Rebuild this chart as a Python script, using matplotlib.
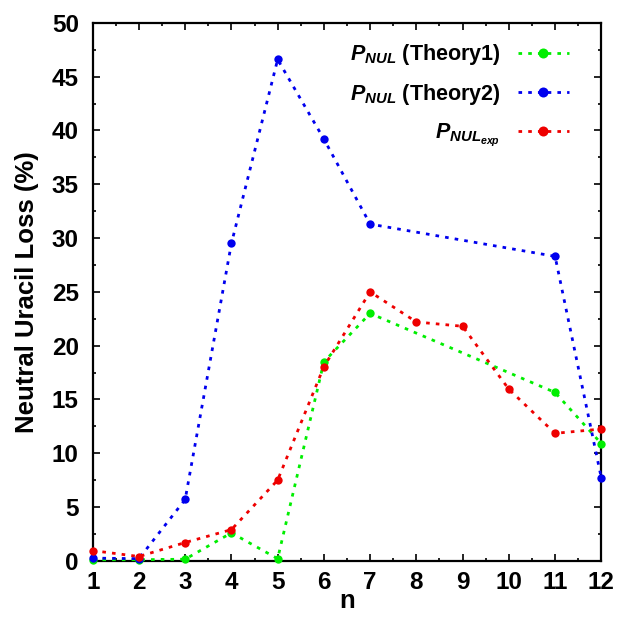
import matplotlib
matplotlib.use("Agg")
import matplotlib.pyplot as plt
from matplotlib.ticker import MultipleLocator

plt.rcParams['font.family'] = ['Liberation Sans', 'DejaVu Sans']
plt.rcParams['font.weight'] = 'bold'
plt.rcParams['mathtext.fontset'] = 'custom'
plt.rcParams['mathtext.it'] = 'Liberation Sans:italic:bold'
plt.rcParams['mathtext.rm'] = 'Liberation Sans:bold'
plt.rcParams['mathtext.bf'] = 'Liberation Sans:bold'

# Data
n_theory1 = [1, 2, 3, 4, 5, 6, 7, 11, 12]
p_theory1 = [0.1, 0.1, 0.15, 2.6, 0.2, 18.5, 23.0, 15.65, 10.9]

n_theory2 = [1, 2, 3, 4, 5, 6, 7, 11, 12]
p_theory2 = [0.25, 0.2, 5.7, 29.5, 46.6, 39.2, 31.3, 28.3, 7.7]

n_exp = [1, 2, 3, 4, 5, 6, 7, 8, 9, 10, 11, 12]
p_exp = [0.95, 0.4, 1.7, 2.9, 7.5, 18.05, 25.0, 22.2, 21.8, 15.95, 11.85, 12.25]

labels = [r'$P_{NUL}$ (Theory1)', r'$P_{NUL}$ (Theory2)', r'$P_{NUL_{exp}}$']
colors = ['#00ee00', '#0000ee', '#ee0000']
xticks = list(range(1, 13))

fig = plt.figure(figsize=(6.18, 6.19), dpi=100)
ax = fig.add_axes([0.150, 0.094, 0.823, 0.869])

ls = (0, (1.3, 2.2))
for xs, ys, lab, c in [(n_theory1, p_theory1, labels[0], colors[0]),
                       (n_theory2, p_theory2, labels[1], colors[1]),
                       (n_exp, p_exp, labels[2], colors[2])]:
    ax.plot(xs, ys, linestyle=ls, color=c, lw=2.0, marker='o', ms=6,
            markeredgewidth=0, label=lab, clip_on=False, zorder=3)

ax.set_xlim(1, 12)
ax.set_ylim(0, 50)
ax.set_xticks(xticks)
ax.xaxis.set_minor_locator(MultipleLocator(0.5))
ax.yaxis.set_major_locator(MultipleLocator(5))
ax.yaxis.set_minor_locator(MultipleLocator(2.5))
ax.tick_params(which='both', direction='in', top=True, right=True, width=1.2)
ax.tick_params(which='major', length=5, labelsize=17.5)
ax.tick_params(axis='y', which='major', pad=10)
ax.tick_params(axis='x', which='major', pad=7)
ax.tick_params(which='minor', length=2.5)
for lab in ax.get_xticklabels() + ax.get_yticklabels():
    lab.set_fontweight('bold')
for s in ax.spines.values():
    s.set_linewidth(1.6)

ax.set_xlabel('n', fontsize=18.5, fontweight='bold', labelpad=-3)
ax.set_ylabel('Neutral Uracil Loss (%)', fontsize=18.5, fontweight='bold', labelpad=9)

leg = ax.legend(loc='upper right', bbox_to_anchor=(0.975, 1.0),
                frameon=False, markerfirst=False,
                fontsize=15.5, handlelength=2.4, labelspacing=0.68,
                borderaxespad=0.5, handletextpad=0.8, markerscale=1.2)
for t in leg.get_texts():
    t.set_horizontalalignment('right')

fig.savefig('out.png', dpi=100)
